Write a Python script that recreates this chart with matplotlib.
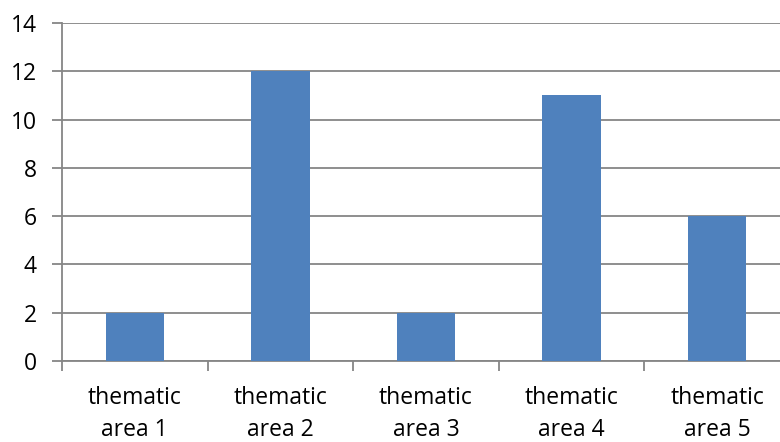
import numpy as np
import matplotlib.pyplot as plt

categories = ['thematic\narea 1', 'thematic\narea 2', 'thematic\narea 3',
              'thematic\narea 4', 'thematic\narea 5']
values = [2, 12, 2, 11, 6]

plt.rcParams['font.family'] = ['Open Sans', 'DejaVu Sans']

fig = plt.figure(figsize=(7.8, 4.42), dpi=100)
ax = fig.add_axes([62/780, 81/442, 728/780, 338/442])

x = np.arange(len(values))
ax.bar(x, values, width=0.4, color='#4F81BD', zorder=3)

ax.set_xlim(-0.5, len(values) - 0.5)
ax.set_ylim(0, 14)
ax.set_yticks(range(0, 15, 2))
ax.yaxis.grid(True, color='#868686', linewidth=1.3, zorder=0)

ax.set_xticks(np.arange(-0.5, len(values), 1.0))
ax.set_xticklabels([])
ax.set_xticks(x, minor=True)
ax.set_xticklabels(categories, minor=True, fontsize=16.5, linespacing=1.45)
ax.tick_params(axis='x', which='minor', length=0, pad=18)
ax.tick_params(axis='x', which='major', length=7, color='#868686', width=1.3)
ax.tick_params(axis='y', length=7, color='#868686', width=1.3, labelsize=16.5, pad=11)

for s in ['top', 'right']:
    ax.spines[s].set_visible(False)
for s in ['left', 'bottom']:
    ax.spines[s].set_color('#868686')
    ax.spines[s].set_linewidth(1.3)

fig.savefig('out.png', dpi=100)
